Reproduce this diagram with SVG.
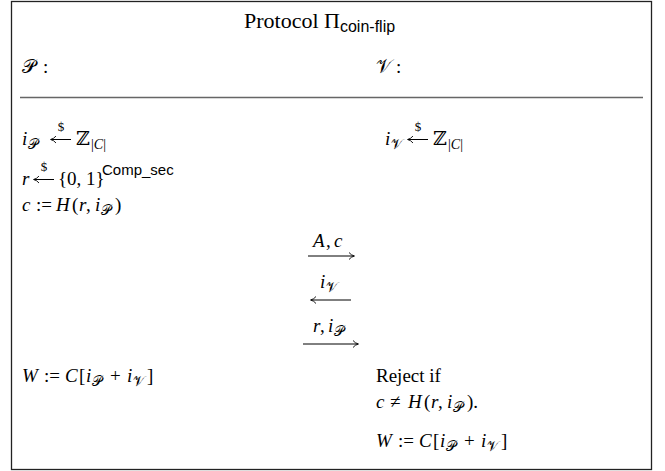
<svg xmlns="http://www.w3.org/2000/svg" width="665" height="471" viewBox="0 0 665 471">
<defs>
<style>
.t{font-family:"Liberation Serif","DejaVu Serif",serif;font-size:19px;fill:#000}
.i{font-style:italic}
.sub{font-size:14px}
.ss{font-family:"Liberation Sans","DejaVu Sans",sans-serif;font-size:14px}
.sc{font-family:"DejaVu Sans","DejaVu Serif",serif;font-style:normal;font-weight:normal}
.dol{font-family:"Liberation Serif",serif;font-size:13px;text-anchor:middle;fill:#000}
.ar{stroke:#000;stroke-width:1;fill:none}
</style>
<marker id="ah" markerWidth="8" markerHeight="8" refX="6" refY="4" orient="auto" markerUnits="userSpaceOnUse">
<path d="M1,0.5 Q3,3.2 6.5,4 Q3,4.8 1,7.5" fill="none" stroke="#000" stroke-width="0.9"/>
</marker>
</defs>
<rect x="11.5" y="1.5" width="640" height="468" fill="#fff" stroke="#222" stroke-width="1.3"/>
<line x1="20" y1="97.5" x2="643" y2="97.5" stroke="#666" stroke-width="1.3"/>

<g id="title">
<text class="t" x="244" y="28" style="font-size:22px">Protocol Π<tspan class="ss" dy="4" style="font-size:16px">coin-flip</tspan></text>
</g>

<g id="prover">
<text class="t" x="22" y="73"><tspan class="sc">𝒫</tspan><tspan x="43">:</tspan></text>
<g id="p-line1">
<text class="t" y="145"><tspan class="i" x="22">i</tspan><tspan class="sc sub" x="28" dy="4">𝒫</tspan><tspan x="76" dy="-4">ℤ</tspan><tspan class="sub" x="91" dy="4">|<tspan class="i">C</tspan>|</tspan></text>
<line class="ar" x1="71" y1="139.5" x2="51" y2="139.5" marker-end="url(#ah)"/>
<text class="dol" x="61" y="131">$</text>
</g>
<g id="p-line2">
<text class="t" y="185"><tspan class="i" x="22">r</tspan><tspan x="58">{0, 1}</tspan><tspan class="ss" x="102" dy="-10" style="font-size:15px">Comp_sec</tspan></text>
<line class="ar" x1="54" y1="179.5" x2="34" y2="179.5" marker-end="url(#ah)"/>
<text class="dol" x="44" y="171">$</text>
</g>
<g id="p-line3">
<text class="t" y="211"><tspan class="i" x="22">c</tspan><tspan x="36">:=</tspan><tspan class="i" x="56">H</tspan><tspan x="72">(</tspan><tspan class="i" x="79">r</tspan><tspan x="86">,</tspan><tspan class="i" x="95">i</tspan><tspan class="sc sub" x="101" dy="4">𝒫</tspan><tspan x="115" dy="-4">)</tspan></text>
</g>
<g id="p-result">
<text class="t" y="382"><tspan class="i" x="22">W</tspan><tspan x="44">:=</tspan><tspan class="i" x="65">C</tspan><tspan x="79">[</tspan><tspan class="i" x="86">i</tspan><tspan class="sc sub" x="92" dy="4">𝒫</tspan><tspan x="110" dy="-4">+</tspan><tspan class="i" x="127">i</tspan><tspan class="sc sub" x="133" dy="4">𝒱</tspan><tspan x="147" dy="-4">]</tspan></text>
</g>
</g>

<g id="verifier">
<text class="t" x="376" y="73"><tspan class="sc">𝒱</tspan><tspan x="396">:</tspan></text>
<g id="v-line1">
<text class="t" y="145"><tspan class="i" x="385">i</tspan><tspan class="sc sub" x="391" dy="4">𝒱</tspan><tspan x="433" dy="-4">ℤ</tspan><tspan class="sub" x="448" dy="4">|<tspan class="i">C</tspan>|</tspan></text>
<line class="ar" x1="428" y1="139.5" x2="408" y2="139.5" marker-end="url(#ah)"/>
<text class="dol" x="418" y="131">$</text>
</g>
<text class="t" x="376" y="382">Reject if</text>
<g id="v-check">
<text class="t" y="408"><tspan class="i" x="376">c</tspan><tspan x="390">≠</tspan><tspan class="i" x="408">H</tspan><tspan x="424">(</tspan><tspan class="i" x="431">r</tspan><tspan x="438">,</tspan><tspan class="i" x="447">i</tspan><tspan class="sc sub" x="453" dy="4">𝒫</tspan><tspan x="467" dy="-4">).</tspan></text>
</g>
<g id="v-result">
<text class="t" y="447"><tspan class="i" x="376">W</tspan><tspan x="398">:=</tspan><tspan class="i" x="419">C</tspan><tspan x="433">[</tspan><tspan class="i" x="440">i</tspan><tspan class="sc sub" x="446" dy="4">𝒫</tspan><tspan x="464" dy="-4">+</tspan><tspan class="i" x="481">i</tspan><tspan class="sc sub" x="487" dy="4">𝒱</tspan><tspan x="501" dy="-4">]</tspan></text>
</g>
</g>

<g id="connectors">
<text class="t" y="247"><tspan class="i" x="313">A</tspan><tspan x="326">,</tspan><tspan class="i" x="334">c</tspan></text>
<line class="ar" x1="308" y1="256" x2="354" y2="256" marker-end="url(#ah)"/>
<text class="t" y="288"><tspan class="i" x="320">i</tspan><tspan class="sc sub" x="326" dy="4">𝒱</tspan></text>
<line class="ar" x1="351" y1="300" x2="311" y2="300" marker-end="url(#ah)"/>
<text class="t" y="332"><tspan class="i" x="313">r</tspan><tspan x="320">,</tspan><tspan class="i" x="328">i</tspan><tspan class="sc sub" x="334" dy="4">𝒫</tspan></text>
<line class="ar" x1="303" y1="344" x2="358" y2="344" marker-end="url(#ah)"/>
</g>
</svg>
